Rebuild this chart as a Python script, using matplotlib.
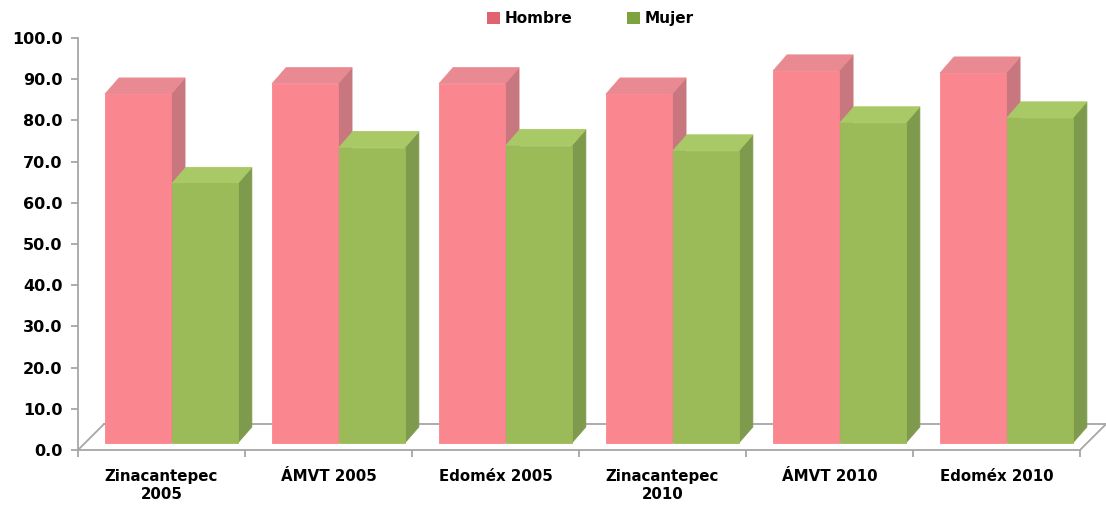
import numpy as np
import matplotlib.pyplot as plt
from matplotlib.patches import Polygon, Patch

# Data
categories = ["Zinacantepec\n2005", "ÁMVT 2005", "Edoméx 2005",
              "Zinacantepec\n2010", "ÁMVT 2010", "Edoméx 2010"]
hombre = [84.7, 87.2, 87.2, 84.7, 90.3, 89.8]
mujer = [63.0, 71.7, 72.2, 70.9, 77.7, 78.9]

plt.rcParams['font.family'] = ['DejaVu Sans']
plt.rcParams['font.weight'] = 'bold'

fig = plt.figure(figsize=(11.06, 5.12), dpi=100)
ax = fig.add_axes([0.0705, 0.1211, 0.906, 0.8047])
ax.set_xlim(0, 6)
ax.set_ylim(0, 100)

grey = "#a6a6a6"

# floor of the pseudo-3D plot (depth offset in data units)
fdx, fdy = 0.156, 6.3
ax.plot([fdx, 6 + fdx], [fdy, fdy], color=grey, lw=1.3, zorder=1, clip_on=False)
ax.plot([0, fdx], [0, fdy], color=grey, lw=1.3, zorder=1, clip_on=False)
ax.plot([6, 6 + fdx], [0, fdy], color=grey, lw=1.3, zorder=1, clip_on=False)

# bar geometry
w = 0.395
base = 1.7
ddx, ddy = 0.084, 3.9
styles = {
    "h": dict(front="#fa8690", side="#c8777e", top="#e98a92", off=0.162),
    "m": dict(front="#9bbb59", side="#7e9a4c", top="#a9c866", off=0.562),
}


def draw_bar(x0, v, st, z):
    x1 = x0 + w
    y0, y1 = base, base + v
    front = Polygon([(x0, y0), (x1, y0), (x1, y1), (x0, y1)], closed=True,
                    facecolor=st["front"], edgecolor=st["front"], lw=0.6, zorder=z)
    side = Polygon([(x1, y0), (x1 + ddx, y0 + ddy), (x1 + ddx, y1 + ddy), (x1, y1)],
                   closed=True, facecolor=st["side"], edgecolor=st["side"], lw=0.6, zorder=z)
    top = Polygon([(x0, y1), (x1, y1), (x1 + ddx, y1 + ddy), (x0 + ddx, y1 + ddy)],
                  closed=True, facecolor=st["top"], edgecolor=st["top"], lw=0.6, zorder=z)
    for p in (side, top, front):
        p.set_clip_on(False)
        ax.add_patch(p)


z = 2
for i in range(len(categories)):
    draw_bar(i + styles["h"]["off"], hombre[i], styles["h"], z)
    z += 1
    draw_bar(i + styles["m"]["off"], mujer[i], styles["m"], z)
    z += 1

# axes styling
for s in ["top", "right"]:
    ax.spines[s].set_visible(False)
ax.spines["left"].set_color(grey)
ax.spines["bottom"].set_color(grey)
ax.spines["left"].set_linewidth(1.3)
ax.spines["bottom"].set_linewidth(1.3)

ax.set_yticks(np.arange(0, 101, 10))
ax.set_yticklabels([f"{t:.1f}" for t in np.arange(0, 101, 10)], fontsize=11.5, fontweight="bold")
ax.tick_params(axis="y", colors=grey, labelcolor="black", length=5, width=1.3, pad=6)

ax.set_xticks(np.arange(len(categories)) + 0.5)
ax.set_xticklabels(categories, fontsize=10.8, fontweight="bold")
ax.set_xticks(np.arange(0, 7), minor=True)
ax.tick_params(axis="x", which="major", length=0, pad=14)
ax.tick_params(axis="x", which="minor", colors=grey, length=5, width=1.3)

handles = [Patch(facecolor="#e06470", edgecolor="none", label="Hombre"),
           Patch(facecolor="#7ea33e", edgecolor="none", label="Mujer")]
fig.legend(handles=handles, loc="center", bbox_to_anchor=(0.534, 0.963), ncol=2,
           frameon=False, handlelength=0.85, handleheight=0.85,
           handletextpad=0.3, columnspacing=3.6, prop={"weight": "bold", "size": 11})

fig.savefig("out.png", dpi=100)
